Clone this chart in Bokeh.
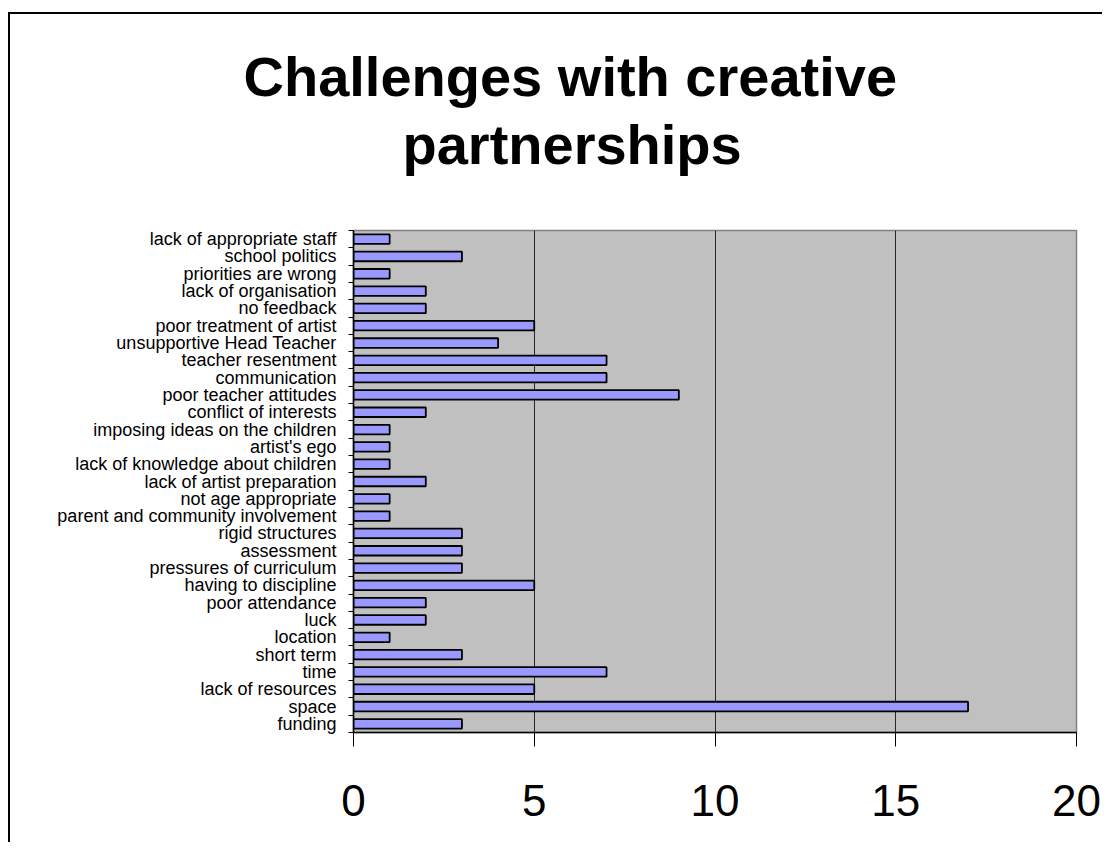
from bokeh.plotting import figure
from bokeh.models import Range1d, FixedTicker, Title
from bokeh.embed import file_html
from bokeh.resources import INLINE

# Data (bottom to top as drawn)
categories = [
    "funding", "space", "lack of resources", "time", "short term", "location",
    "luck", "poor attendance", "having to discipline", "pressures of curriculum",
    "assessment", "rigid structures", "parent and community involvement",
    "not age appropriate", "lack of artist preparation",
    "lack of knowledge about children", "artist's ego",
    "imposing ideas on the children", "conflict of interests",
    "poor teacher attitudes", "communication", "teacher resentment",
    "unsupportive Head Teacher", "poor treatment of artist", "no feedback",
    "lack of organisation", "priorities are wrong", "school politics",
    "lack of appropriate staff",
]
counts = [3, 17, 5, 7, 3, 1, 2, 2, 5, 3, 3, 3, 1, 1, 2, 1, 1, 1, 2, 9, 7, 7, 4, 5, 2, 2, 1, 3, 1]
x_ticks = [0, 5, 10, 15, 20]
title_lines = ["Challenges with creative", "partnerships"]

FONT = "Liberation Sans"
n = len(categories)
positions = list(range(n))

p = figure(
    width=1094, height=830,
    x_range=Range1d(0, 20), y_range=Range1d(-0.5, n - 0.5),
    output_backend="svg", toolbar_location=None,
    min_border_left=343, min_border_right=28,
    min_border_top=216, min_border_bottom=112,
    background_fill_color="#C0C0C0", border_fill_color="white",
    outline_line_color="#808080", outline_line_width=1.5,
    styles={"border-left": "2px solid #000", "border-top": "2px solid #000",
            "margin-top": "12px", "margin-left": "8px"},
)

p.hbar(y=positions, right=counts, left=0, height=0.55,
       fill_color="#9999FF", line_color="black", line_width=1.8)

# x axis
xa = p.xaxis[0]
xa.ticker = FixedTicker(ticks=x_ticks, minor_ticks=[])
xa.major_tick_out = 14
xa.major_tick_in = 0
xa.major_tick_line_color = "black"
xa.axis_line_color = "black"
xa.axis_line_width = 1.5
xa.major_label_text_font = FONT
xa.major_label_text_font_size = "44px"
xa.major_label_text_color = "black"
xa.major_label_standoff = 38

# y axis: labels at band centres, ticks at band boundaries
ya = p.yaxis[0]
ya.ticker = FixedTicker(ticks=positions, minor_ticks=[i - 0.5 for i in range(n + 1)])
ya.major_label_overrides = {i: c for i, c in zip(positions, categories)}
ya.major_tick_out = 0
ya.major_tick_in = 0
ya.minor_tick_out = 5
ya.minor_tick_in = 0
ya.minor_tick_line_color = "black"
ya.axis_line_color = "black"
ya.axis_line_width = 1.5
ya.major_label_text_font = FONT
ya.major_label_text_font_size = "18px"
ya.major_label_text_color = "black"
ya.major_label_standoff = 12

p.ygrid.visible = False
p.xgrid.ticker = FixedTicker(ticks=x_ticks[1:-1])
p.xgrid.grid_line_color = "black"
p.xgrid.grid_line_width = 1
p.xgrid.grid_line_alpha = 0.8

# Title lines. Panels added to "above" stack outward from the frame;
# p.title sits outermost.
spacer = Title(text=" ", text_font_size="1px", standoff=52)
p.add_layout(spacer, "above")

t2 = Title(text=title_lines[1], align="left", offset=49, standoff=0,
           text_font=FONT, text_font_style="bold", text_font_size="56px",
           text_color="black")
p.add_layout(t2, "above")

p.title.text = title_lines[0]
p.title.align = "left"
p.title.offset = -110
p.title.standoff = 6
p.title.text_font = FONT
p.title.text_font_style = "bold"
p.title.text_font_size = "56px"
p.title.text_color = "black"

open("out.html", "w").write(file_html(p, INLINE))
